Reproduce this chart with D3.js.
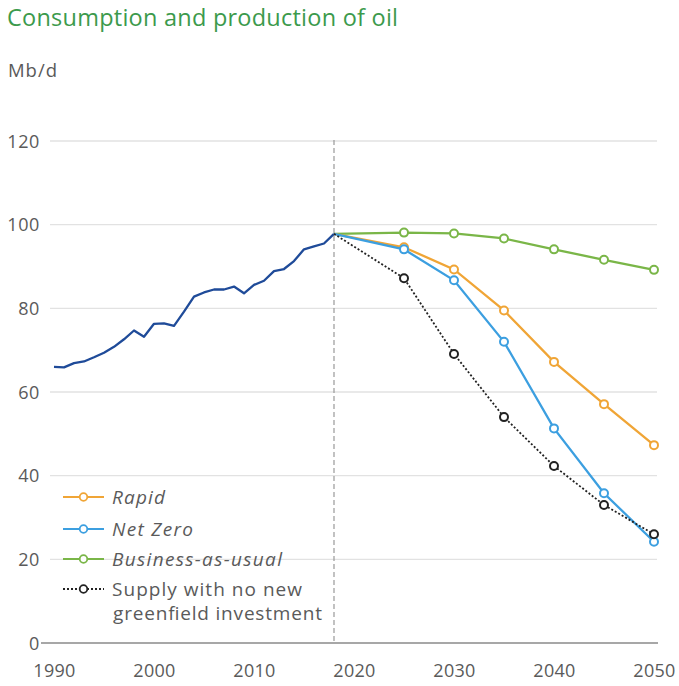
<!DOCTYPE html>
<html><head><meta charset="utf-8">
<script src="https://cdn.jsdelivr.net/npm/d3@7"></script>
<style>body{margin:0;background:#fff;} svg{display:block;font-family:"Open Sans", Roboto, "Liberation Sans", Arial, sans-serif;}</style>
</head><body><svg id="c" width="679" height="686"></svg>
<script>
const histYears = [1990,1991,1992,1993,1994,1995,1996,1997,1998,1999,2000,2001,2002,2003,2004,2005,2006,2007,2008,2009,2010,2011,2012,2013,2014,2015,2016,2017,2018];
const histValues = [66.0,65.9,66.9,67.3,68.3,69.4,70.8,72.6,74.7,73.2,76.3,76.4,75.8,79.2,82.8,83.8,84.5,84.5,85.2,83.6,85.6,86.6,88.9,89.4,91.3,94.1,94.8,95.5,97.8];
const scenYears = [2018,2025,2030,2035,2040,2045,2050];
const rapid = [97.8,94.6,89.3,79.5,67.2,57.1,47.3];
const netZero = [97.8,94.1,86.7,72.0,51.3,35.8,24.2];
const bau = [97.8,98.1,97.9,96.7,94.1,91.6,89.2];
const noNew = [97.8,87.2,69.1,54.0,42.3,33.0,26.0];
const yTicks = [0,20,40,60,80,100,120];
const xTicks = [1990,2000,2010,2020,2030,2040,2050];
const legendLabels = ["Rapid","Net Zero","Business-as-usual","Supply with no new","greenfield investment"];

const svg = d3.select("#c");
const x = d3.scaleLinear().domain([1990,2050]).range([54,654]);
const y = d3.scaleLinear().domain([0,120]).range([643,141]);
const txt = "#5a5a5a";

svg.append("text").attr("x",7).attr("y",26).attr("fill","#3c9a4c").attr("font-size",23.5)
  .attr("textLength",391).attr("lengthAdjust","spacing").text("Consumption and production of oil");
svg.append("text").attr("x",8).attr("y",77).attr("fill",txt).attr("font-size",18.5)
  .attr("textLength",49).attr("lengthAdjust","spacing").text("Mb/d");

// grid
svg.append("g").selectAll("line").data(yTicks.filter(d=>d>0)).join("line")
  .attr("x1",50).attr("x2",657).attr("y1",d=>y(d)).attr("y2",d=>y(d))
  .attr("stroke","#e2e2e2").attr("stroke-width",1.3);
svg.append("line").attr("x1",41).attr("x2",658).attr("y1",y(0)).attr("y2",y(0)).attr("stroke","#8a8a8a").attr("stroke-width",1.5);

// y labels
svg.append("g").selectAll("text").data(yTicks).join("text")
  .attr("x",40).attr("y",d=>y(d)+6.5).attr("text-anchor","end").attr("fill",txt).attr("font-size",18)
  .attr("letter-spacing",0.6).text(d=>d);
// x labels
svg.append("g").selectAll("text").data(xTicks).join("text")
  .attr("x",d=>x(d)+0.5).attr("y",677).attr("text-anchor","middle").attr("fill",txt).attr("font-size",18)
  .attr("letter-spacing",0.3).text(d=>d);

// dashed line
svg.append("line").attr("x1",x(2018)).attr("x2",x(2018)).attr("y1",140).attr("y2",y(0))
  .attr("stroke","#999").attr("stroke-width",1.2).attr("stroke-dasharray","5,3");

const line = d3.line().x(d=>x(d[0])).y(d=>y(d[1]));
svg.append("path").attr("d",line(histYears.map((yr,i)=>[yr,histValues[i]])))
  .attr("fill","none").attr("stroke","#1f4b99").attr("stroke-width",2.3).attr("stroke-linejoin","round");

const series = [
  {vals:bau,color:"#7ab648",dash:null},
  {vals:rapid,color:"#f0a536",dash:null},
  {vals:netZero,color:"#3c9fe0",dash:null},
  {vals:noNew,color:"#222",dash:"2,2"}
];
series.forEach(s=>{
  const pts = scenYears.map((yr,i)=>[yr,s.vals[i]]);
  svg.append("path").attr("d",line(pts)).attr("fill","none").attr("stroke",s.color)
    .attr("stroke-width",s.dash?1.8:2.3).attr("stroke-dasharray",s.dash);
  svg.append("g").selectAll("circle").data(pts.slice(1)).join("circle")
    .attr("cx",d=>x(d[0])).attr("cy",d=>y(d[1])).attr("r",4)
    .attr("fill","#fff").attr("stroke",s.color).attr("stroke-width",2);
});

// legend
const leg = [
  {label:legendLabels[0],color:"#f0a536",dash:null,italic:true,yy:497,w:53},
  {label:legendLabels[1],color:"#3c9fe0",dash:null,italic:true,yy:529,w:81},
  {label:legendLabels[2],color:"#7ab648",dash:null,italic:true,yy:559,w:170},
  {label:legendLabels[3],color:"#222",dash:"2,2",italic:false,yy:589,w:190}
];
leg.forEach(l=>{
  svg.append("line").attr("x1",63).attr("x2",104).attr("y1",l.yy).attr("y2",l.yy)
    .attr("stroke",l.color).attr("stroke-width",l.dash?1.8:2).attr("stroke-dasharray",l.dash);
  svg.append("circle").attr("cx",83.5).attr("cy",l.yy).attr("r",3.8).attr("fill","#fff").attr("stroke",l.color).attr("stroke-width",1.8);
  svg.append("text").attr("x",112).attr("y",l.yy+6.5).attr("fill",txt).attr("font-size",19)
    .attr("font-style",l.italic?"italic":"normal").attr("textLength",l.w).attr("lengthAdjust","spacing").text(l.label);
});
svg.append("text").attr("x",113).attr("y",620).attr("fill",txt).attr("font-size",19)
  .attr("textLength",209).attr("lengthAdjust","spacing").text(legendLabels[4]);
</script></body></html>
